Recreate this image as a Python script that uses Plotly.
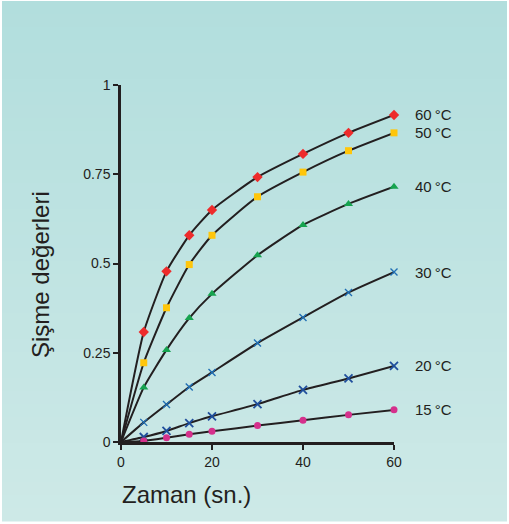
import plotly.graph_objects as go

times = [5, 10, 15, 20, 30, 40, 50, 60]
labels = ["60\u2009°C", "50\u2009°C", "40\u2009°C", "30\u2009°C", "20\u2009°C", "15\u2009°C"]
s60 = [0.308, 0.478, 0.579, 0.650, 0.742, 0.807, 0.866, 0.916]
s50 = [0.222, 0.376, 0.497, 0.579, 0.687, 0.756, 0.816, 0.866]
s40 = [0.153, 0.258, 0.347, 0.415, 0.523, 0.608, 0.667, 0.715]
s30 = [0.055, 0.105, 0.154, 0.195, 0.277, 0.349, 0.419, 0.476]
s20 = [0.014, 0.031, 0.053, 0.072, 0.106, 0.146, 0.178, 0.213]
s15 = [0.003, 0.012, 0.022, 0.030, 0.046, 0.061, 0.076, 0.090]
x_ticks = [0, 20, 40, 60]
y_ticks = [0, 0.25, 0.5, 0.75, 1]
y_tick_text = ["0", "0.25", "0.5", "0.75", "1"]

series = [s60, s50, s40, s30, s20, s15]
styles = [
    dict(symbol="diamond", color="#EE2B2B", size=8, line=dict(width=0)),
    dict(symbol="square", color="#FFC60B", size=7, line=dict(width=0)),
    dict(symbol="triangle-up", color="#16A34F", size=8, line=dict(width=0)),
    dict(symbol="x-thin", color="#1F6EB4", size=7, line=dict(width=1.4, color="#1F6EB4")),
    dict(symbol="x-thin", color="#1F4E9C", size=8, line=dict(width=1.8, color="#1F4E9C")),
    dict(symbol="circle", color="#D5308C", size=7, line=dict(width=0)),
]

fig = go.Figure()

# gradient background bands
W, H = 509, 524
L, R, T, B = 121, 394, 85, 442
pw, ph = R - L, B - T
n = 40
top = (178, 222, 221)
bot = (205, 233, 231)
shapes = []
y_start, y_end = 1, 521
for i in range(n):
    p0 = y_start + (y_end - y_start) * i / n
    p1 = y_start + (y_end - y_start) * (i + 1) / n + 0.6
    f = i / (n - 1)
    c = tuple(round(top[k] + (bot[k] - top[k]) * f) for k in range(3))
    shapes.append(dict(type="rect", xref="paper", yref="paper", layer="below",
                       x0=(2 - L) / pw, x1=(507 - L) / pw,
                       y0=(B - p1) / ph, y1=(B - p0) / ph,
                       fillcolor="rgb(%d,%d,%d)" % c, line=dict(width=0)))

for vals, st, lab in zip(series, styles, labels):
    fig.add_trace(go.Scatter(x=[0] + times, y=[0] + vals, mode="lines",
                             line=dict(color="#231F20", width=2, shape="spline", smoothing=0.5),
                             hoverinfo="skip", showlegend=False, cliponaxis=False))
    fig.add_trace(go.Scatter(x=times, y=vals, mode="markers", marker=st,
                             name=lab, showlegend=False, cliponaxis=False))
    fig.add_annotation(x=times[-1], y=vals[-1], xref="x", yref="y", text=lab,
                       showarrow=False, xanchor="left", yanchor="middle", xshift=19,
                       font=dict(size=15, color="#231F20", family="Liberation Sans, Arial"))

fig.add_annotation(xref="paper", yref="paper", x=(40 - L) / pw, y=(B - 275) / ph,
                   text="Şişme değerleri", textangle=-90, showarrow=False,
                   xanchor="center", yanchor="middle",
                   font=dict(size=24, color="#231F20", family="Liberation Sans, Arial"))
fig.add_annotation(xref="paper", yref="paper", x=(120 - L) / pw, y=(B - 494) / ph,
                   text="Zaman (sn.)", showarrow=False,
                   xanchor="left", yanchor="middle",
                   font=dict(size=24, color="#231F20", family="Liberation Sans, Arial"))

fig.update_layout(
    width=W, height=H,
    margin=dict(l=L, r=W - R, t=T, b=H - B, pad=0),
    paper_bgcolor="white", plot_bgcolor="rgba(0,0,0,0)",
    shapes=shapes, showlegend=False,
    font=dict(family="Liberation Sans, Arial", color="#231F20", size=14),
)
fig.update_xaxes(range=[0, 60], tickvals=x_ticks, ticktext=[str(v) for v in x_ticks],
                 showgrid=False, zeroline=False, showline=True, linecolor="#231F20",
                 linewidth=2.5, ticks="outside", ticklen=5, tickwidth=2, tickcolor="#231F20",
                 tickfont=dict(size=14), fixedrange=True)
fig.update_yaxes(range=[0, 1], tickvals=y_ticks, ticktext=y_tick_text,
                 showgrid=False, zeroline=False, showline=True, linecolor="#231F20",
                 linewidth=2.5, ticks="outside", ticklen=5, tickwidth=2, tickcolor="#231F20",
                 tickfont=dict(size=14), fixedrange=True)

fig.write_html("out.html")
